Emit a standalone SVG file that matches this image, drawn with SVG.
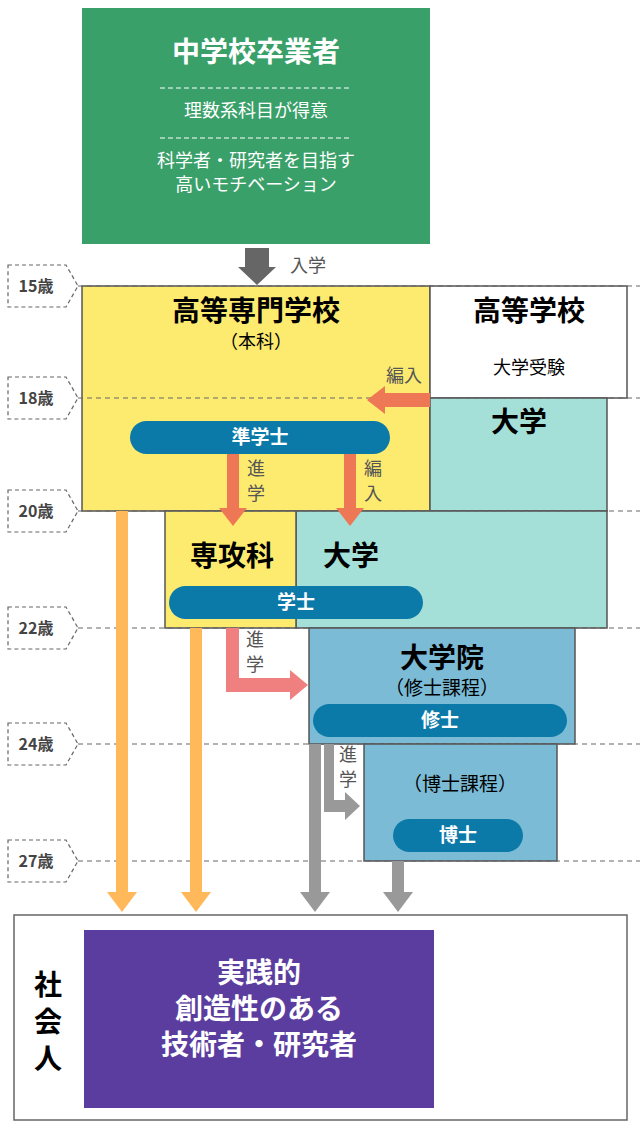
<svg xmlns="http://www.w3.org/2000/svg" width="640" height="1133" viewBox="0 0 640 1133">
<style>
text{font-family:"Noto Sans CJK JP","Noto Sans",sans-serif;text-anchor:middle}
.b{font-weight:bold}
.box{stroke:#555;stroke-width:1.5}
.age{fill:#fff;stroke:#666;stroke-width:1.2;stroke-dasharray:4 3}
.dl{stroke:#666;stroke-width:1.2;stroke-dasharray:5 4}
.pill{fill:#0b7aa8}
.pt{fill:#fff;font-weight:bold;font-size:19px}
.lbl{fill:#555;font-size:18px}
.ag{font-weight:bold;font-size:16px;fill:#444}
</style>
<g id="chugaku">
<rect x="82" y="8" width="348" height="236" fill="#3aa06a"/>
<text x="256" y="62" class="b" font-size="28" fill="#fff">中学校卒業者</text>
<line x1="160" y1="88" x2="352" y2="88" stroke="#fff" stroke-dasharray="5 3"/>
<text x="256" y="117" font-size="18" fill="#fff">理数系科目が得意</text>
<line x1="160" y1="138" x2="352" y2="138" stroke="#fff" stroke-dasharray="5 3"/>
<text x="256" y="167" font-size="18" fill="#fff">科学者・研究者を目指す</text>
<text x="256" y="191" font-size="18" fill="#fff">高いモチベーション</text>
</g>
<g id="kosen"><rect class="box" x="82" y="286" width="348" height="225" fill="#fdeb70"/>
<text x="256" y="321" class="b" font-size="28">高等専門学校</text><text x="256" y="348" font-size="18">（本科）</text></g>
<g id="koko"><rect class="box" x="430" y="286" width="197" height="112" fill="#fff"/>
<text x="529" y="321" class="b" font-size="28">高等学校</text><text x="529" y="374" font-size="18">大学受験</text></g>
<g id="daigaku"><rect class="box" x="430" y="398" width="177" height="113" fill="#a4e0d8"/>
<rect class="box" x="296" y="511" width="311" height="117" fill="#a4e0d8"/>
<text x="519" y="432" class="b" font-size="28">大学</text><text x="351" y="566" class="b" font-size="28">大学</text></g>
<g id="senkoka"><rect class="box" x="165" y="511" width="131" height="117" fill="#fdeb70"/>
<text x="232" y="566" class="b" font-size="28">専攻科</text></g>
<g id="daigakuin"><rect class="box" x="309" y="628" width="266" height="116" fill="#7bbbd6"/>
<text x="442" y="668" class="b" font-size="28">大学院</text><text x="442" y="695" font-size="19">（修士課程）</text></g>
<g id="hakase"><rect class="box" x="364" y="744" width="193" height="117" fill="#7bbbd6"/>
<text x="460" y="791" font-size="19">（博士課程）</text></g>
<g id="lines">
<line class="dl" x1="78" y1="286" x2="640" y2="286"/><line class="dl" x1="78" y1="398" x2="640" y2="398"/>
<line class="dl" x1="78" y1="511" x2="640" y2="511"/><line class="dl" x1="78" y1="628" x2="640" y2="628"/>
<line class="dl" x1="78" y1="744" x2="640" y2="744"/><line class="dl" x1="78" y1="861" x2="640" y2="861"/>
</g>
<g id="ages">
<polygon class="age" points="8,265 66,265 78,286 66,307 8,307"/><text x="36" y="292" class="ag">15歳</text>
<polygon class="age" points="8,377 66,377 78,398 66,419 8,419"/><text x="36" y="404" class="ag">18歳</text>
<polygon class="age" points="8,490 66,490 78,511 66,532 8,532"/><text x="36" y="517" class="ag">20歳</text>
<polygon class="age" points="8,607 66,607 78,628 66,649 8,649"/><text x="36" y="634" class="ag">22歳</text>
<polygon class="age" points="8,723 66,723 78,744 66,765 8,765"/><text x="36" y="750" class="ag">24歳</text>
<polygon class="age" points="8,840 66,840 78,861 66,882 8,882"/><text x="36" y="867" class="ag">27歳</text>
</g>
<g id="connectors">
<polygon fill="#666" points="245,248 269,248 269,267 276,267 257,285 238,267 245,267"/>
<text x="308" y="272" class="lbl">入学</text>
<polygon fill="#ee7755" points="430,393 385,393 385,386 367,400 385,414 385,407 430,407"/>
<text x="404" y="382" class="lbl">編入</text>
<polygon fill="#ee7755" points="227,454 239,454 239,508 247,508 233,526 219,508 227,508"/>
<text x="256" y="475" class="lbl">進</text><text x="256" y="500" class="lbl">学</text>
<polygon fill="#ee7755" points="344,454 356,454 356,508 364,508 350,526 336,508 344,508"/>
<text x="373" y="475" class="lbl">編</text><text x="373" y="500" class="lbl">入</text>
<polygon fill="#f08080" points="226,628 239,628 239,678 290,678 290,670 308,685 290,700 290,692 226,692"/>
<text x="255" y="646" class="lbl">進</text><text x="255" y="671" class="lbl">学</text>
<polygon fill="#999" points="324,744 334,744 334,800 345,800 345,792 360,806 345,820 345,812 324,812"/>
<text x="348" y="761" class="lbl">進</text><text x="348" y="786" class="lbl">学</text>
<polygon fill="#ffb85a" points="116,511 128,511 128,892 137,892 122,912 107,892 116,892"/>
<polygon fill="#ffb85a" points="190,628 202,628 202,892 211,892 196,912 181,892 190,892"/>
<polygon fill="#999" points="309,744 321,744 321,892 330,892 315,912 300,892 309,892"/>
<polygon fill="#999" points="392,861 404,861 404,892 413,892 398,912 383,892 392,892"/>
</g>
<g id="degrees">
<rect class="pill" x="130" y="421" width="260" height="33" rx="16.5"/><text x="260" y="444" class="pt">準学士</text>
<rect class="pill" x="169" y="586" width="254" height="33" rx="16.5"/><text x="296" y="609" class="pt">学士</text>
<rect class="pill" x="313" y="704" width="254" height="33" rx="16.5"/><text x="440" y="727" class="pt">修士</text>
<rect class="pill" x="393" y="819" width="130" height="33" rx="16.5"/><text x="458" y="842" class="pt">博士</text>
</g>
<g id="shakaijin">
<rect x="14" y="915" width="613" height="205" fill="#fff" stroke="#666" stroke-width="1.5"/>
<text x="48" y="995" class="b" font-size="28">社</text><text x="48" y="1032" class="b" font-size="28">会</text><text x="48" y="1069" class="b" font-size="28">人</text>
<rect x="84" y="930" width="350" height="178" fill="#5a3d9e"/>
<text x="259" y="983" class="b" font-size="28" fill="#fff">実践的</text>
<text x="259" y="1019" class="b" font-size="28" fill="#fff">創造性のある</text>
<text x="259" y="1055" class="b" font-size="28" fill="#fff">技術者・研究者</text>
</g>
</svg>
